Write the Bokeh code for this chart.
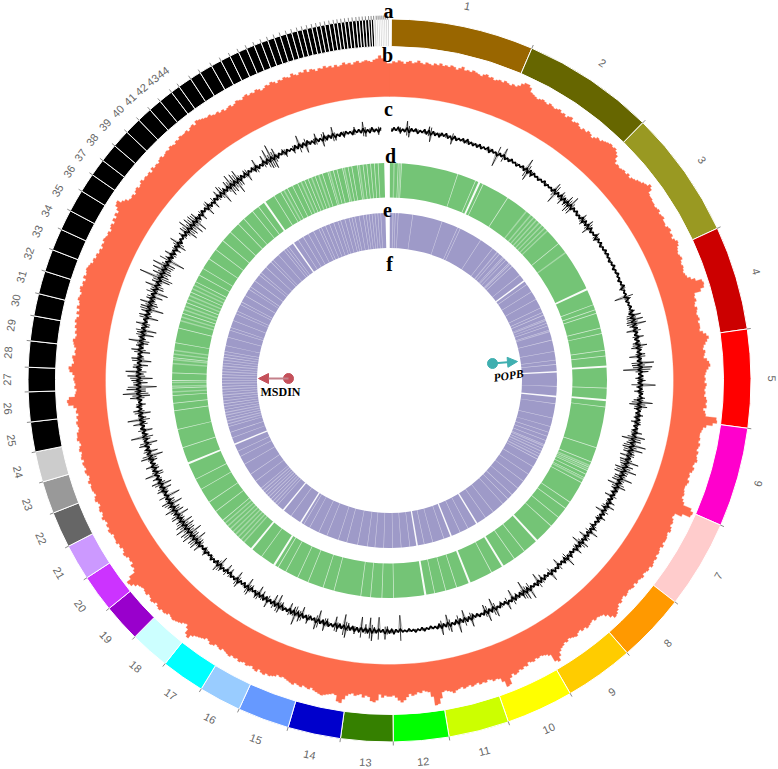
import math
from bokeh.plotting import figure
from bokeh.models import Range1d, Arrow, NormalHead
from bokeh.core.properties import value
from bokeh.embed import file_html
from bokeh.resources import INLINE

# scaffold end positions (degrees on the circular genome axis)
scaffold_ends = [23.2,44.5,65.1,81.8,97.6,113.6,127.8,138.9,150.0,160.8,170.5,179.4,187.8,196.3,204.6,211.4,218.4,224.8,230.9,236.9,242.7,248.5,253.7,258.6,263.4,
 268.2,272.1,276.3,280.3,283.9,287.6,291.2,294.7,298.0,301.6,304.7,307.5,310.5,313.4,316.1,318.5,320.6,322.9,324.4,
 326.6,328.4,330.5,332.2,333.8,335.3,336.7,338.0,339.2,340.3,341.4,342.4,343.4,344.3,345.2,346.0,346.8,347.6,348.3,349.0,349.7,350.4,351.1,351.7,352.3,352.9,353.5,354.1,354.7,355.2,355.7,356.2,356.7,357.1,357.5,357.9,358.2,358.5,358.8,359.1,359.4,359.7,360.0]
scaffold_colors = ["#996600","#666600","#999922","#CC0000","#FF0000","#FF00CC","#FFCCCC","#FF9900","#FFCC00","#FFFF00","#CCFF00","#00FF00","#358000","#0000CC","#6699FF","#99CCFF","#00FFFF","#CCFFFF","#9900CC","#CC33FF","#CC99FF","#666666","#999999","#CCCCCC"]
labelled_scaffolds = 44
pale_tail_from = 357.5

# track b: repeat density per half degree
repeat_density = [
33,35,34,36,35,33,35,36,34,35,37,35,34,36,35,34,36,35,37,35,
36,35,37,36,34,36,38,35,36,35,37,36,35,34,36,37,35,36,34,35,
36,35,37,36,35,37,36,38,41,43,43,41,37,36,35,34,35,36,35,34,
36,35,34,35,36,34,35,33,35,36,33,34,35,33,32,34,33,35,34,32,
34,36,35,37,38,39,40,39,40,38,36,32,29,30,29,30,31,30,32,30,
32,33,35,36,38,39,42,40,36,35,35,34,34,33,34,35,33,34,35,33,
33,32,34,35,33,34,32,34,36,35,33,32,31,32,33,31,30,31,30,29,
30,31,34,38,44,45,44,40,33,32,33,31,30,32,31,30,31,32,30,31,
31,30,33,36,38,36,34,32,31,33,32,31,34,36,37,35,33,32,31,32,
31,33,32,31,32,31,33,34,33,34,31,33,34,45,46,42,36,33,32,31,
31,32,31,33,32,31,33,32,33,34,32,31,33,32,30,31,30,32,31,30,
30,31,32,31,33,35,44,47,46,38,31,30,32,33,32,34,35,33,34,35,
35,34,36,34,35,36,35,37,36,37,38,36,37,36,35,37,36,35,36,34,
36,35,34,35,36,34,35,37,36,38,40,42,43,40,36,33,32,31,32,30,
31,32,33,31,32,30,31,33,32,31,30,32,31,33,34,36,40,44,42,34,
32,31,30,31,30,32,31,30,33,32,34,33,35,36,34,37,43,44,38,34,
33,34,32,31,33,32,33,31,32,33,31,32,33,31,32,33,35,33,32,31,
32,38,43,44,35,30,29,28,30,29,31,32,30,33,36,38,36,33,31,32,
32,31,33,30,36,38,37,33,32,34,31,32,33,31,32,34,38,42,41,35,
34,35,36,37,38,37,36,35,33,35,34,33,35,34,33,35,34,33,32,31,
32,31,33,34,35,34,36,35,33,36,35,33,34,35,33,34,35,33,34,33,
35,34,33,32,34,33,32,34,35,33,32,34,35,36,37,39,43,41,36,33,
34,36,37,38,39,38,37,39,40,39,41,40,38,40,41,39,38,40,39,38,
39,40,43,46,47,42,35,33,34,31,32,31,33,34,32,31,33,32,34,33,
33,32,34,35,33,34,32,33,35,33,32,34,33,31,32,34,33,31,32,33,
33,32,34,32,31,33,34,32,33,34,32,34,33,32,34,33,31,32,34,33,
33,31,30,31,32,30,31,29,31,30,33,38,39,37,31,30,29,31,30,31,
32,31,33,36,37,34,32,33,34,31,32,31,33,34,35,33,32,34,33,35,
34,36,35,33,36,34,37,35,36,38,37,36,38,39,37,38,36,39,37,38,
39,38,37,35,36,34,35,33,34,32,34,33,35,34,33,34,32,34,35,33,
36,34,37,35,38,41,42,38,36,33,32,33,31,33,34,32,33,35,33,34,
33,34,32,35,33,34,33,35,36,34,35,36,35,37,36,35,37,36,38,37,
37,38,36,38,39,37,40,39,38,37,36,37,35,34,35,33,34,32,33,34,
32,33,35,34,33,35,36,34,35,34,36,35,33,34,36,35,37,36,34,36,
35,37,36,35,38,36,35,37,36,38,35,37,36,34,36,35,37,35,36,34,
36,34,35,37,35,36,34,36,37,35,36,37,36,35,37,38,41,38,35,33]

# track c: GC content deviation per half degree
gc_deviation = [
1,-2,2,-1,3,-4,1,-2,9,-7,2,-1,2,-3,1,-1,3,-2,6,-9,
2,-2,1,-3,2,-1,3,-2,1,-7,2,-2,1,-1,2,-2,3,-2,1,-2,
1,-2,2,-2,1,-1,3,-3,2,-1,1,-13,2,-1,9,-2,1,-2,2,-1,
1,-2,1,-1,2,-2,12,-10,3,-4,2,-1,1,-2,1,-1,2,-2,1,-1,
1,-2,9,-12,2,-2,6,-7,3,-5,8,-9,11,-8,2,-1,2,-2,1,-2,
6,-5,3,-2,7,-8,3,-2,1,-1,5,-4,2,-1,2,-2,1,-1,2,-1,
2,-1,1,-2,1,-1,2,-2,1,-1,2,-1,1,-2,1,-1,3,-4,1,-1,
1,-12,4,-2,1,-1,2,-1,4,-3,9,-6,10,-7,12,-5,3,-9,2,-2,
7,-3,2,-5,9,-7,3,-2,6,-10,2,-3,14,-8,12,-17,8,-2,3,-5,
5,-3,15,-4,2,-6,3,-1,5,-6,13,-10,8,-5,2,-3,5,-4,3,-6,
4,-3,2,-4,7,-3,11,-12,8,-6,14,-9,12,-7,5,-9,3,-8,12,-6,
8,-10,13,-9,5,-7,12,-8,4,-11,9,-5,3,-4,2,-8,2,-3,6,-2,
8,-5,2,-9,3,-2,6,-4,2,-2,1,-5,5,-2,9,-3,2,-8,4,-2,
8,-10,3,-4,7,-2,1,-3,4,-2,10,-4,3,-2,1,-8,2,-1,3,-2,
9,-2,1,-3,2,-6,2,-10,3,-2,1,-2,11,-4,9,-12,6,-3,2,-4,
3,-10,2,-1,8,-2,1,-4,2,-1,9,-11,3,-2,10,-8,2,-1,2,-2,
1,-4,9,-2,3,-10,2,-3,11,-3,2,-1,8,-10,2,-2,9,-3,2,-1,
1,-2,1,-1,2,-2,1,-1,2,-1,1,-2,1,-1,1,-16,1,-2,3,-3,
2,-5,8,-2,1,-14,2,-4,10,-13,3,-6,2,-13,3,-2,5,-3,2,-5,
10,-13,2,-3,6,-9,2,-1,3,-5,8,-3,2,-11,9,-2,1,-3,6,-2,
2,-9,7,-4,12,-6,3,-8,2,-1,3,-5,7,-11,3,-9,2,-2,8,-3,
3,-6,2,-9,5,-2,1,-5,7,-10,2,-3,1,-2,7,-9,2,-1,2,-6,
1,-8,2,-1,5,-10,8,-3,2,-1,3,-2,1,-2,5,-4,1,-2,8,-6,
9,-12,8,-7,11,-13,10,-8,12,-10,9,-11,6,-5,8,-12,4,-9,10,-7,
5,-12,9,-6,3,-14,2,-4,7,-9,3,-11,9,-3,6,-2,12,-7,3,-5,
8,-3,2,-6,10,-13,3,-9,4,-2,8,-11,2,-5,14,-4,2,-9,3,-2,
9,-4,14,-5,3,-10,7,-2,4,-6,1,-3,9,-11,16,-7,12,-18,5,-9,
7,-14,11,-5,13,-3,6,-9,2,-12,8,-4,2,-10,9,-3,5,-7,13,-4,
4,-11,6,-13,3,-5,9,-2,3,-12,8,-3,7,-15,9,-8,11,-4,6,-10,
3,-14,5,-8,12,-4,7,-11,22,-8,10,-9,12,-7,14,-9,3,-17,5,-3,
8,-4,2,-6,3,-9,10,-3,2,-1,6,-2,8,-11,12,-9,10,-12,9,-13,
8,-4,2,-7,3,-1,2,-9,6,-3,1,-8,2,-2,7,-3,9,-12,4,-2,
8,-10,12,-9,10,-13,11,-7,3,-2,5,-8,2,-1,3,-4,9,-3,1,-2,
8,-3,12,-9,15,-11,9,-3,2,-1,4,-5,2,-1,1,-5,3,-2,11,-3,
2,-9,3,-2,1,-4,7,-2,1,-8,6,-3,2,-2,9,-5,1,-2,2,-4,
2,-1,1,-3,5,-1,2,-2,9,-6,1,-3,3,-2,1,-5,2,-1,13,-5]

# tracks d and e: positions (degrees) without coverage
green_wide = [24.4,65.2,86.3,95.2,137.4,148.6,158.4,170.5,212,219.3,247.6,325]
green_thin = [2.3,3.2,18.3,23.3,25.5,32.9,51,69.6,71,72,76,77.5,82,83.5,92,97,108,112,113.5,114.5,115.5,116.5,118,124,126,129,132,141.7,145,152,162,165,168,178.9,182,185,187.6,194.8,197.8,202,205,208.5,210.8,216,230,233,236,240,243,252,257,262,264,266,268,270,272,276,280,284,288,291,294,297,299,301,304,307,310,313,316,318,321,323,328,330,332,333.5,335,337,338,340,342,343.5,345,346,347.5,349,350,351.5,353,354,355,356,357]
green_pale = [1.2,2.8,39,40.5,41.5,42.5,43.5,44.5,45.5,46.5,54,113,114,117,222,223,224,225,226,227,228,229,267,268.5,269.5,274.5,275.5,277,278,286,287,289,290,292,293,295,296,331,336,339,341,344,348,352]
purple_wide = [53.5,87,95.5,148.6,158.4,170.5,212,219.3,247.6,325]
purple_thin = [2,3,8,18.3,24,25,33,38,41,42.5,44,45.5,47,51,55,58,61,64.3,66,67,68.5,70,71,72.5,76,80,83,84.5,92,98,103,106,108,109.5,111,112.5,114,116,118,121,124,127,130,133,135,137.4,141.7,145,152,155,161,165,168,173,176,178.9,182,185,187.6,191,194.8,197.8,202,205,208.5,210.8,216,222,225,228,230,233,236,240,243,245,250,252,254,257,260,262,264,266,268,270,272,274,276,278,280,282,285,287.5,288.5,291,293.5,294.5,297,298,300.5,303,304,306.5,309,310,312.5,315,316,318.5,321,322,323,327,329,331,333,335,336,337.5,339,340.5,342,343,344.5,346,347,348,349.5,351,352,353,354,355,356,357]
purple_pale = [1.2,40,43,46,69,73,113,115,117,223,224,226,227,229,255,256,258,259,261,263,265,267,269,271,273,275,277,279]

track_letters = ["a","b","c","d","e","f"]
gene_names = ["MSDIN","POPB"]

cx = lambda t: math.radians(90 - t)
p = figure(width=778, height=769, x_range=Range1d(-389, 389), y_range=Range1d(-389, 380),
           output_backend="svg", toolbar_location=None, min_border=0,
           outline_line_color=None, background_fill_color="white", border_fill_color="white")
p.axis.visible = False
p.grid.visible = False

def xy(theta, r):
    a = math.radians(theta)
    return r * math.sin(a), r * math.cos(a)

# track a: ideogram
starts = [0.3] + scaffold_ends[:-1]
colors = []
for i, e in enumerate(scaffold_ends):
    if i < len(scaffold_colors):
        colors.append(scaffold_colors[i])
    elif e > pale_tail_from:
        colors.append("#cfcfcf")
    else:
        colors.append("#000000")
p.annular_wedge(x=0, y=0, inner_radius=334, outer_radius=361.5,
                start_angle=[cx(s) for s in starts], end_angle=[cx(e) for e in scaffold_ends],
                direction="clock", fill_color=colors, line_color="white", line_width=1)
tx0, ty0 = zip(*[xy(e, 361) for e in scaffold_ends[:-1]])
tx1, ty1 = zip(*[xy(e, 365) for e in scaffold_ends[:-1]])
p.segment(tx0, ty0, tx1, ty1, line_color="#8a8a8a", line_width=1)
for i in range(labelled_scaffolds):
    mid = (starts[i] + scaffold_ends[i]) / 2
    x, y = xy(mid, 382.5)
    ang = 180 - mid if 90 < mid < 270 else -mid
    p.text([x], [y], text=[str(i + 1)], angle=[math.radians(ang)], text_align="center", text_baseline="middle",
           text_font=value("Liberation Sans"), text_font_size="11px", text_color="#666666")

# track b: one stepped outline, closed back along the inner circle
n = len(repeat_density)
w = 360 / n
outer = []
for i, v in enumerate(repeat_density):
    outer.append(xy(i * w, 284 + v))
    outer.append(xy((i + 1) * w, 284 + v))
inner = [xy(360 - i, 284) for i in range(0, 361)]
ring_pts = outer + inner
p.patch([q[0] for q in ring_pts], [q[1] for q in ring_pts], fill_color="#FD6C4C", line_color="#FD6C4C", line_width=0.3)

# track c: two-sided sticks, a thin trace and a dense core
m = len(gc_deviation)
w2 = 360 / m
idx = range(1, m - 3)
s0 = [xy(i * w2, 251 - 0.6 * gc_deviation[i]) for i in idx]
s1 = [xy(i * w2, 251 + gc_deviation[i]) for i in idx]
p.segment([q[0] for q in s0], [q[1] for q in s0], [q[0] for q in s1], [q[1] for q in s1],
          line_color="#000000", line_width=0.8)
trace = [xy(i * w2, 251 + gc_deviation[i]) for i in idx]
p.line([q[0] for q in trace], [q[1] for q in trace], line_color="#000000", line_width=0.4, line_alpha=0.7)
core = [xy(i * w2, 251 + max(-2.5, min(2.5, gc_deviation[i]))) for i in idx]
p.line([q[0] for q in core], [q[1] for q in core], line_color="#000000", line_width=1.6)

# tracks d, e
def ring(r0, r1, col, wide, thin, pale, thin_alpha):
    p.annular_wedge(x=0, y=0, inner_radius=r0, outer_radius=r1, start_angle=cx(0.1), end_angle=cx(358.6),
                    direction="clock", fill_color=col, line_color=None)
    for lst, wd, al in ((pale, 0.4, 0.35), (thin, 0.2, thin_alpha), (wide, 0.55, 0.95)):
        p.annular_wedge(x=0, y=0, inner_radius=r0 - 0.5, outer_radius=r1 + 0.5,
                        start_angle=[cx(t - wd / 2) for t in lst], end_angle=[cx(t + wd / 2) for t in lst],
                        direction="clock", fill_color="white", fill_alpha=al, line_color=None)

ring(183, 217.5, "#74C476", green_wide, green_thin, green_pale, 0.7)
ring(132.5, 167.5, "#9E9AC8", purple_wide, purple_thin, purple_pale, 0.55)

# gene markers
p.add_layout(Arrow(end=NormalHead(size=10, fill_color="#C4505A", line_color="#C4505A"),
                   x_start=-101, y_start=2, x_end=-131, y_end=2, line_color="#C4808A", line_width=2))
p.scatter([-101], [2], size=10, color="#C4505A")
p.add_layout(Arrow(end=NormalHead(size=10, fill_color="#3FAFB0", line_color="#3FAFB0"),
                   x_start=103, y_start=17, x_end=128, y_end=19, line_color="#3FAFB0", line_width=2))
p.scatter([103], [17], size=10, color="#3FAFB0")
p.text([-109], [-11], text=[gene_names[0]], text_align="center", text_baseline="middle",
       text_font=value("Liberation Serif"), text_font_style="bold", text_font_size="12px", text_color="#000000")
p.text([119], [5], text=[gene_names[1]], angle=[math.radians(9)], text_align="center", text_baseline="middle",
       text_font=value("Liberation Serif"), text_font_style="bold italic", text_font_size="11.5px", text_color="#000000")

# track letters
lx = [-1, -2, -1, 1, -2, 0]
ly = [370, 326, 272, 225, 171, 117]
p.text(lx, ly, text=track_letters, text_align="center", text_baseline="middle",
       text_font=value("Liberation Serif"), text_font_style="bold", text_font_size="20px", text_color="#000000")

open("out.html", "w").write(file_html(p, INLINE))
